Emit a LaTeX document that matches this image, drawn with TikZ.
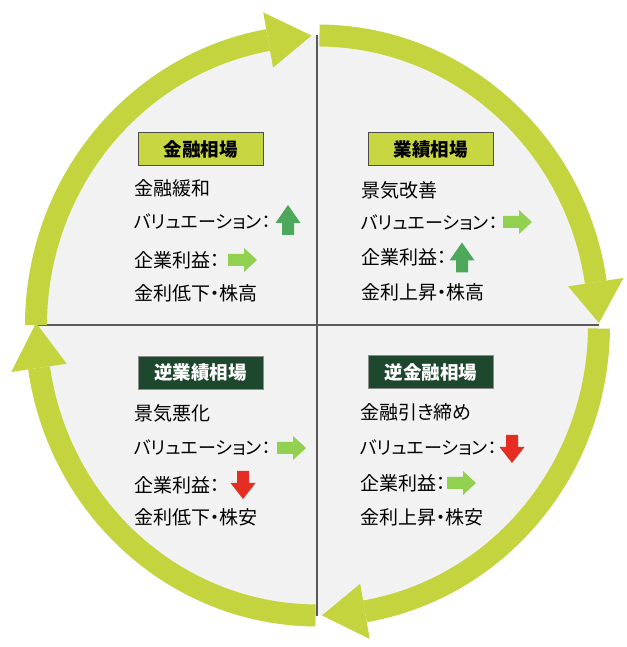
\documentclass[tikz,border=0pt]{standalone}
\usepackage{fontspec}
\usetikzlibrary{calc}
\newfontfamily\jp[RawFeature=+palt]{Noto Sans CJK JP}
\definecolor{ringc}{RGB}{196,212,62}
\definecolor{bgc}{RGB}{242,242,242}
\definecolor{titlelight}{RGB}{200,214,66}
\definecolor{titledark}{RGB}{30,72,45}
\definecolor{upgreen}{RGB}{78,168,92}
\definecolor{lgreen}{RGB}{146,208,80}
\definecolor{downred}{RGB}{230,45,35}
\tikzset{
  rarr/.pic={\fill[lgreen] (0,6) -- (16,6) -- (16,12) -- (29,0) -- (16,-12) -- (16,-6) -- (0,-6) -- cycle;},
  uarr/.pic={\fill[upgreen] (-6,-15) -- (-6,-3) -- (-12.5,-3) -- (0,15) -- (12.5,-3) -- (6,-3) -- (6,-15) -- cycle;},
  darr/.pic={\fill[downred] (-6,14) -- (-6,2) -- (-12.5,2) -- (0,-14) -- (12.5,2) -- (6,2) -- (6,14) -- cycle;},
}
\begin{document}
\begin{tikzpicture}[x=1pt,y=1pt,
  ring/.style={draw=ringc, line width=22pt},
  divider/.style={draw=black!65, line width=1.2pt},
  body/.style={anchor=west, inner sep=0pt, font=\jp\fontsize{19}{21}\selectfont},
  kbody/.style={anchor=west, inner sep=0pt, font=\jp\fontsize{18}{20}\selectfont},
  tbox/.style={minimum width=125pt, minimum height=33pt, inner sep=0pt, line width=1pt,
    font=\jp\bfseries\fontsize{18.5}{20}\selectfont},
  tlight/.style={tbox, draw=black!70, fill=titlelight, text=black},
  tdark/.style={tbox, draw=black!45, fill=titledark, text=white},
]
\useasboundingbox (0,0) rectangle (626,647);
\fill[white] (0,0) rectangle (626,647);
\coordinate (C) at (317.5,321.5);
\fill[bgc] (C) ellipse [x radius=281.5, y radius=290];
% dividers
\coordinate (vt) at (317,612);
\coordinate (vb) at (317,31);
\coordinate (hl) at (36,322);
\coordinate (hr) at (599,322);
\draw[divider] (vt) -- (vb);
\draw[divider] (hl) -- (hr);
% ring segments with heads
\foreach \s/\b/\t in {89.6/8.6/0.5, -0.6/-80.3/-89.1, -90.4/-171.6/-180.5, 179.9/100.1/91.2} {
  \draw[ring] ($(C)+(\s:281.5 and 290)$) arc[start angle=\s, end angle=\b, x radius=281.5, y radius=290];
  \fill[ringc] ($(C)+(\b:253.5 and 262)$) -- ($(C)+(\b:309.5 and 318)$) -- ($(C)+(\t:281.5 and 290)$) -- cycle;
}
% Q1
\node[tlight] (t1) at (200.5,497.5) {金融相場};
\node[body] (a1) at (134,459) {金融緩和};
\node[kbody] (a2) at (134,425) {バリュエーション：};
\node[body] (a3) at (134,387) {企業利益：};
\node[body] (a4) at (134,354) {金利低下・株高};
\pic at (288,427) {uarr};
\pic at (228,387) {rarr};
% Q2
\node[tlight] (t2) at (430.5,497.5) {業績相場};
\node[body] (b1) at (361,457) {景気改善};
\node[kbody] (b2) at (361,424) {バリュエーション：};
\node[body] (b3) at (361,390) {企業利益：};
\node[body] (b4) at (361,355) {金利上昇・株高};
\pic at (503,425) {rarr};
\pic at (462,389.5) {uarr};
% Q3
\node[tdark] (t3) at (200.5,274) {逆業績相場};
\node[body] (c1) at (134,234) {景気悪化};
\node[kbody] (c2) at (134,199) {バリュエーション：};
\node[body] (c3) at (134,162) {企業利益：};
\node[body] (c4) at (134,130) {金利低下・株安};
\pic at (277,199) {rarr};
\pic at (243,162) {darr};
% Q4
\node[tdark] (t4) at (431,274.5) {逆金融相場};
\node[body] (d1) at (360,235) {金融引き締め};
\node[kbody] (d2) at (360,199) {バリュエーション：};
\node[body] (d3) at (360,164) {企業利益：};
\node[body] (d4) at (360,130) {金利上昇・株安};
\pic at (512,198) {darr};
\pic at (447,164) {rarr};
\end{tikzpicture}
\end{document}
